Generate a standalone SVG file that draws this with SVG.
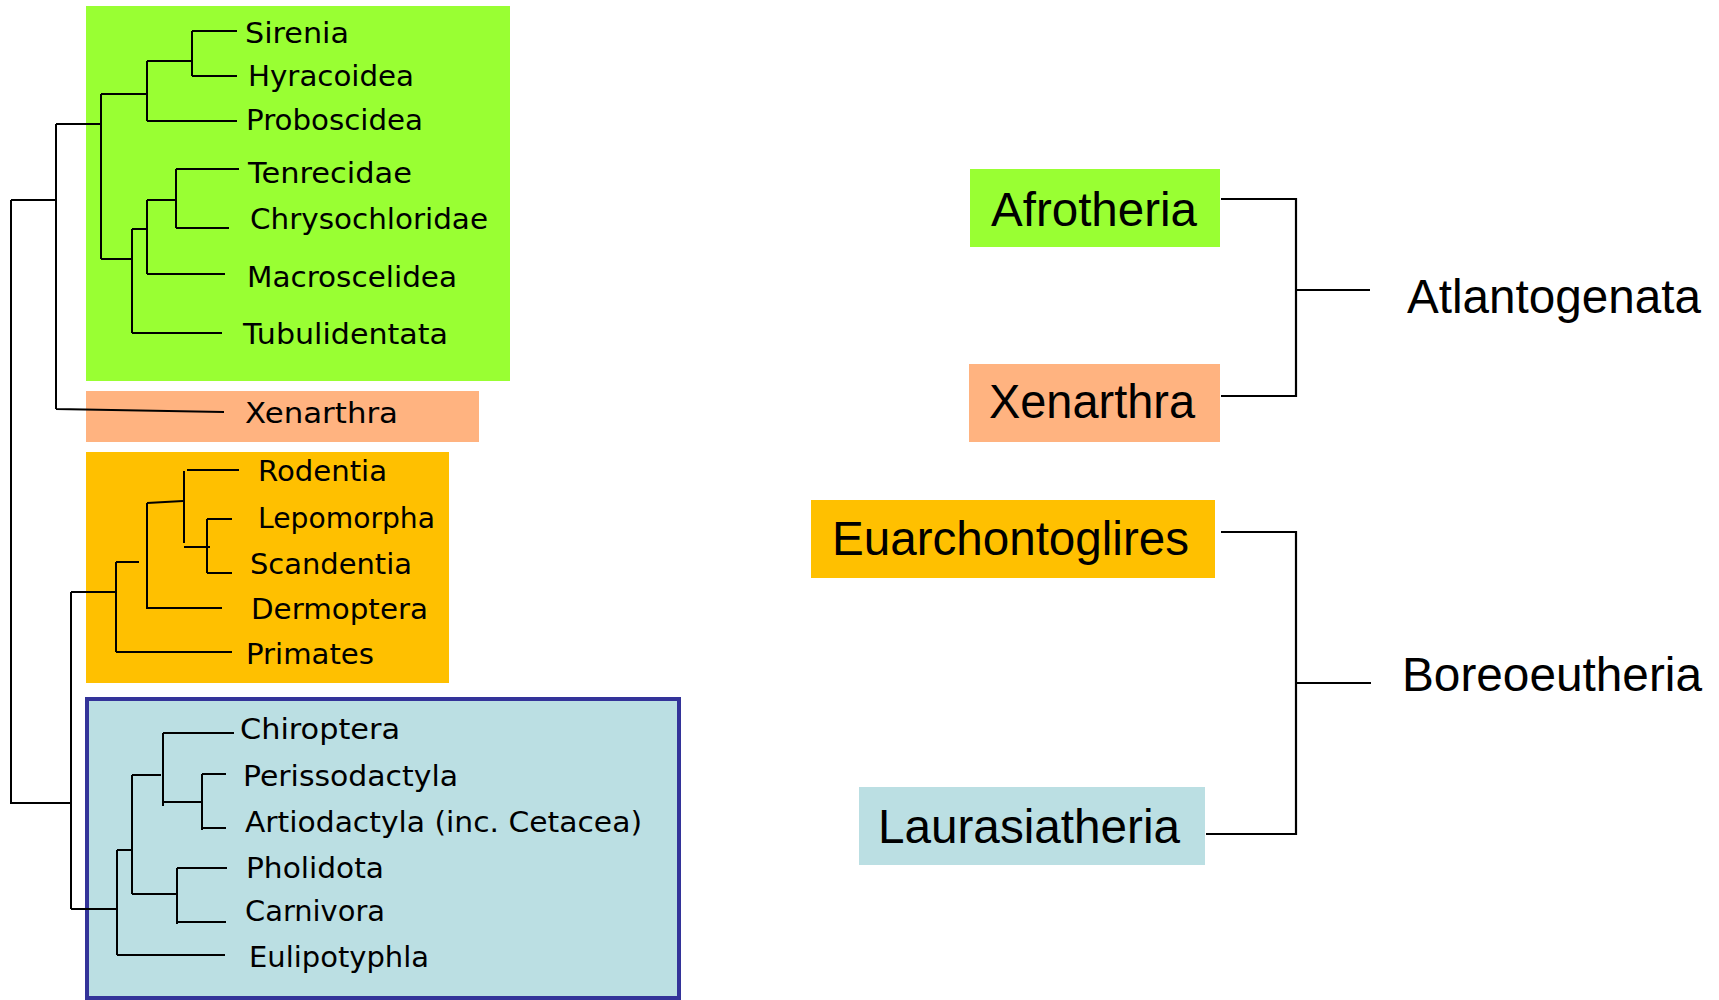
<svg xmlns="http://www.w3.org/2000/svg" width="1719" height="1000" viewBox="0 0 1719 1000">
<style>
.t{font-family:"DejaVu Sans","Liberation Sans",sans-serif;font-size:29px;fill:#000}
.T{font-family:"Liberation Sans",Arial,sans-serif;font-size:48px;fill:#000}
.ln{stroke:#000;stroke-width:2;fill:none}
.ln2{stroke:#000;stroke-width:2.2;fill:none}
</style>
<rect width="1719" height="1000" fill="#fff"/>
<g id="afrotheria-box">
<rect x="86" y="6" width="424" height="375" fill="#99FF33"/>
<text class="t" x="245" y="43" textLength="104" lengthAdjust="spacingAndGlyphs">Sirenia</text>
<text class="t" x="248" y="86" textLength="166" lengthAdjust="spacingAndGlyphs">Hyracoidea</text>
<text class="t" x="246" y="130" textLength="177" lengthAdjust="spacingAndGlyphs">Proboscidea</text>
<text class="t" x="248" y="183" textLength="164" lengthAdjust="spacingAndGlyphs">Tenrecidae</text>
<text class="t" x="250" y="229" textLength="238" lengthAdjust="spacingAndGlyphs">Chrysochloridae</text>
<text class="t" x="247" y="287" textLength="210" lengthAdjust="spacingAndGlyphs">Macroscelidea</text>
<text class="t" x="243" y="344" textLength="205" lengthAdjust="spacingAndGlyphs">Tubulidentata</text>
</g>
<g id="xenarthra-box">
<rect x="86" y="391" width="393" height="51" fill="#FFB380"/>
<text class="t" x="245" y="423" textLength="153" lengthAdjust="spacingAndGlyphs">Xenarthra</text>
</g>
<g id="euarchontoglires-box">
<rect x="86" y="452" width="363" height="231" fill="#FFC000"/>
<text class="t" x="258" y="481" textLength="129" lengthAdjust="spacingAndGlyphs">Rodentia</text>
<text class="t" x="258" y="528" textLength="177" lengthAdjust="spacingAndGlyphs">Lepomorpha</text>
<text class="t" x="250" y="574" textLength="162" lengthAdjust="spacingAndGlyphs">Scandentia</text>
<text class="t" x="251" y="619" textLength="177" lengthAdjust="spacingAndGlyphs">Dermoptera</text>
<text class="t" x="246" y="664" textLength="128" lengthAdjust="spacingAndGlyphs">Primates</text>
</g>
<g id="laurasiatheria-box">
<rect x="87" y="699" width="592" height="299" fill="#BBDFE3" stroke="#333399" stroke-width="4"/>
<text class="t" x="240" y="739" textLength="160" lengthAdjust="spacingAndGlyphs">Chiroptera</text>
<text class="t" x="243" y="786" textLength="215" lengthAdjust="spacingAndGlyphs">Perissodactyla</text>
<text class="t" x="245" y="832" textLength="397" lengthAdjust="spacingAndGlyphs">Artiodactyla (inc. Cetacea)</text>
<text class="t" x="246" y="878" textLength="138" lengthAdjust="spacingAndGlyphs">Pholidota</text>
<text class="t" x="245" y="921" textLength="140" lengthAdjust="spacingAndGlyphs">Carnivora</text>
<text class="t" x="249" y="967" textLength="180" lengthAdjust="spacingAndGlyphs">Eulipotyphla</text>
</g>
<g id="tree-connectors">
<path class="ln" d="M11,200 V804 M11,200 H56 M11,803 H71"/>
<path class="ln" d="M56,124 V409 M56,124 H101 M56,409 L224,412"/>
<path class="ln" d="M101,94 V259 M101,94 H147 M101,259 H131"/>
<path class="ln" d="M147,61 V121 M147,61 H192 M147,121 H237"/>
<path class="ln" d="M192,31 V76 M192,31 H237 M192,76 H237"/>
<path class="ln" d="M132,229 V333 M132,229 H147 M132,333 H222"/>
<path class="ln" d="M147,200 V274 M147,200 H176 M147,274 H225"/>
<path class="ln" d="M176,169 V228 M176,169 H239 M176,228 H229"/>
<path class="ln" d="M71,592 V909 M71,592 H116 M71,909 H117"/>
<path class="ln" d="M116,562 V652 M116,562 H139 M116,652 H232"/>
<path class="ln" d="M147,503 V609 M147,503 L183,501 M147,608 H222"/>
<path class="ln" d="M184,471 V543 M187,470 H239 M184,547 H210"/>
<path class="ln" d="M207,519 V573 M207,519 H232 M207,573 H232"/>
<path class="ln" d="M117,850 V955 M117,850 H132 M117,955 H225"/>
<path class="ln" d="M132,775 V894 M132,775 H161 M132,894 H177"/>
<path class="ln" d="M163,733 V806 M163,733 H234 M163,802 H202"/>
<path class="ln" d="M202,774 V830 M202,774 H226 M202,828 H226"/>
<path class="ln" d="M177,868 V924 M177,868 H227 M177,922 H226"/>
</g>
<g id="node-afrotheria">
<rect x="970" y="169" width="250" height="78" fill="#99FF33"/>
<text class="T" x="991" y="226" textLength="206" lengthAdjust="spacingAndGlyphs">Afrotheria</text>
</g>
<g id="node-xenarthra">
<rect x="969" y="364" width="251" height="78" fill="#FFB380"/>
<text class="T" x="989" y="418" textLength="206" lengthAdjust="spacingAndGlyphs">Xenarthra</text>
</g>
<g id="node-euarchontoglires">
<rect x="811" y="500" width="404" height="78" fill="#FFC000"/>
<text class="T" x="832" y="555" textLength="357" lengthAdjust="spacingAndGlyphs">Euarchontoglires</text>
</g>
<g id="node-laurasiatheria">
<rect x="859" y="787" width="346" height="78" fill="#BBDFE3"/>
<text class="T" x="878" y="843" textLength="302" lengthAdjust="spacingAndGlyphs">Laurasiatheria</text>
</g>
<g id="node-atlantogenata">
<text class="T" x="1407" y="313" textLength="294" lengthAdjust="spacingAndGlyphs">Atlantogenata</text>
</g>
<g id="node-boreoeutheria">
<text class="T" x="1402" y="691" textLength="300" lengthAdjust="spacingAndGlyphs">Boreoeutheria</text>
</g>
<g id="clade-connectors">
<path class="ln2" d="M1221,199 H1296 V396 H1221 M1296,290 H1370"/>
<path class="ln2" d="M1221,532 H1296 V834 H1206 M1296,683 H1371"/>
</g>
</svg>
